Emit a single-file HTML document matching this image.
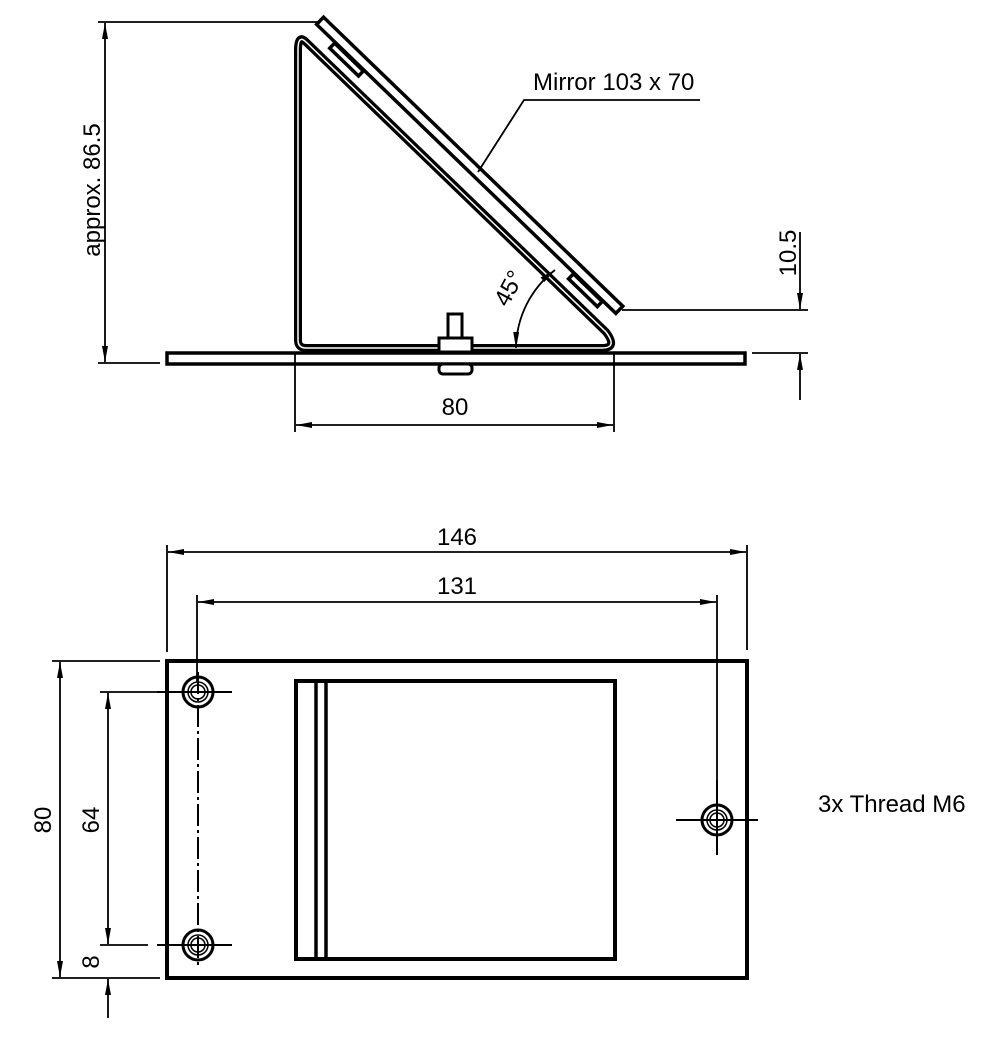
<!DOCTYPE html>
<html><head><style>
body{margin:0;background:#fff}
svg{display:block}
text{font-family:"Liberation Sans",sans-serif;font-size:24px;fill:#000}
</style></head><body>
<svg width="992" height="1039" viewBox="0 0 992 1039" xmlns="http://www.w3.org/2000/svg">
<defs>
<marker id="a" viewBox="0 0 16 6" refX="16" refY="3" markerWidth="16" markerHeight="6" markerUnits="userSpaceOnUse" orient="auto-start-reverse"><path d="M0,0 L16,3 L0,6 z" fill="#000"/></marker>
</defs>
<g stroke="#000" fill="none">
<rect x="167" y="353" width="578" height="11" stroke-width="3.5" fill="#fff"/>
<path d="M306,42 L606,332 Q618,348 602,348 L306,348 Q298,348 298,340 L298,50 Q298,34 306,42 Z" stroke-width="8" fill="#fff"/>
<path d="M306,42 L606,332 Q618,348 602,348 L306,348 Q298,348 298,340 L298,50 Q298,34 306,42 Z" stroke="#fff" stroke-width="1.5"/>
<g transform="translate(469,166) rotate(44)">
<rect x="-208" y="-6" width="416" height="10" stroke-width="3.5" fill="#fff"/>
<rect x="-182" y="5" width="40" height="7" stroke-width="3.5" fill="#fff"/>
<rect x="150" y="5" width="40" height="7" stroke-width="3.5" fill="#fff"/>
</g>
<rect x="448" y="314" width="14" height="24" stroke-width="3" fill="#fff"/>
<rect x="439" y="338" width="33" height="14" stroke-width="3" fill="#fff"/>
<rect x="439" y="364" width="33" height="10" rx="4" stroke-width="3" fill="#fff"/>
<g stroke-width="1.8">
<line x1="98" y1="22" x2="318" y2="22"/>
<line x1="98" y1="363" x2="160" y2="363"/>
<line x1="105" y1="190" x2="105" y2="23" marker-end="url(#a)"/>
<line x1="105" y1="190" x2="105" y2="362" marker-end="url(#a)"/>
<line x1="295" y1="352" x2="295" y2="432"/>
<line x1="614" y1="352" x2="614" y2="432"/>
<line x1="455" y1="425" x2="296" y2="425" marker-end="url(#a)"/>
<line x1="455" y1="425" x2="613" y2="425" marker-end="url(#a)"/>
<line x1="622" y1="310" x2="808" y2="310"/>
<line x1="752" y1="353" x2="808" y2="353"/>
<line x1="800" y1="232" x2="800" y2="309" marker-end="url(#a)"/>
<line x1="800" y1="400" x2="800" y2="354" marker-end="url(#a)"/>
<polyline points="478,172 524,100 700,100"/>
<path d="M516,348 A100 100 0 0 1 555,270" marker-start="url(#a)" marker-end="url(#a)"/>
</g>
<rect x="167" y="661" width="580" height="317" stroke-width="4"/>
<rect x="296" y="681" width="319" height="278" stroke-width="4"/>
<line x1="316" y1="681" x2="316" y2="959" stroke-width="3.5"/>
<line x1="326" y1="681" x2="326" y2="959" stroke-width="3.5"/>
<g stroke-width="2">
<line x1="157" y1="692" x2="232" y2="692"/>
<line x1="157" y1="945" x2="232" y2="945"/>
<line x1="676" y1="820" x2="758" y2="820"/>
<line x1="717" y1="780" x2="717" y2="855"/>
<line x1="198" y1="672" x2="198" y2="965" stroke-dasharray="22,4,3,4"/>
</g>
<g stroke-width="3">
<circle cx="198" cy="692" r="15"/><circle cx="198" cy="692" r="10" stroke-width="1.5"/><circle cx="198" cy="692" r="7" stroke-width="1.5"/>
<circle cx="198" cy="945" r="15"/><circle cx="198" cy="945" r="10" stroke-width="1.5"/><circle cx="198" cy="945" r="7" stroke-width="1.5"/>
<circle cx="717" cy="820" r="15"/><circle cx="717" cy="820" r="10" stroke-width="1.5"/><circle cx="717" cy="820" r="7" stroke-width="1.5"/>
</g>
<g stroke-width="1.8">
<line x1="167" y1="545" x2="167" y2="652"/>
<line x1="747" y1="545" x2="747" y2="650"/>
<line x1="457" y1="552" x2="168" y2="552" marker-end="url(#a)"/>
<line x1="457" y1="552" x2="746" y2="552" marker-end="url(#a)"/>
<line x1="197" y1="595" x2="197" y2="682"/>
<line x1="717" y1="595" x2="717" y2="780"/>
<line x1="457" y1="602" x2="198" y2="602" marker-end="url(#a)"/>
<line x1="457" y1="602" x2="716" y2="602" marker-end="url(#a)"/>
<line x1="52" y1="661" x2="160" y2="661"/>
<line x1="52" y1="978" x2="160" y2="978"/>
<line x1="60" y1="820" x2="60" y2="662" marker-end="url(#a)"/>
<line x1="60" y1="820" x2="60" y2="977" marker-end="url(#a)"/>
<line x1="100" y1="692" x2="160" y2="692"/>
<line x1="100" y1="945" x2="148" y2="945"/>
<line x1="108" y1="820" x2="108" y2="693" marker-end="url(#a)"/>
<line x1="108" y1="820" x2="108" y2="944" marker-end="url(#a)"/>
<line x1="108" y1="1018" x2="108" y2="979" marker-end="url(#a)"/>
</g>
</g>
<text x="0" y="0" text-anchor="middle" transform="translate(100,190) rotate(-90)">approx. 86.5</text>
<text x="455" y="415" text-anchor="middle">80</text>
<text x="0" y="0" text-anchor="middle" transform="translate(796,253) rotate(-90)">10.5</text>
<text x="533" y="90">Mirror 103 x 70</text>
<text x="0" y="0" text-anchor="middle" transform="translate(516,292) rotate(-62)">45°</text>
<text x="457" y="545" text-anchor="middle">146</text>
<text x="457" y="594" text-anchor="middle">131</text>
<text x="0" y="0" text-anchor="middle" transform="translate(51,820) rotate(-90)">80</text>
<text x="0" y="0" text-anchor="middle" transform="translate(99,820) rotate(-90)">64</text>
<text x="0" y="0" text-anchor="middle" transform="translate(99,962) rotate(-90)">8</text>
<text x="818" y="812">3x Thread M6</text>
</svg>
</body></html>
